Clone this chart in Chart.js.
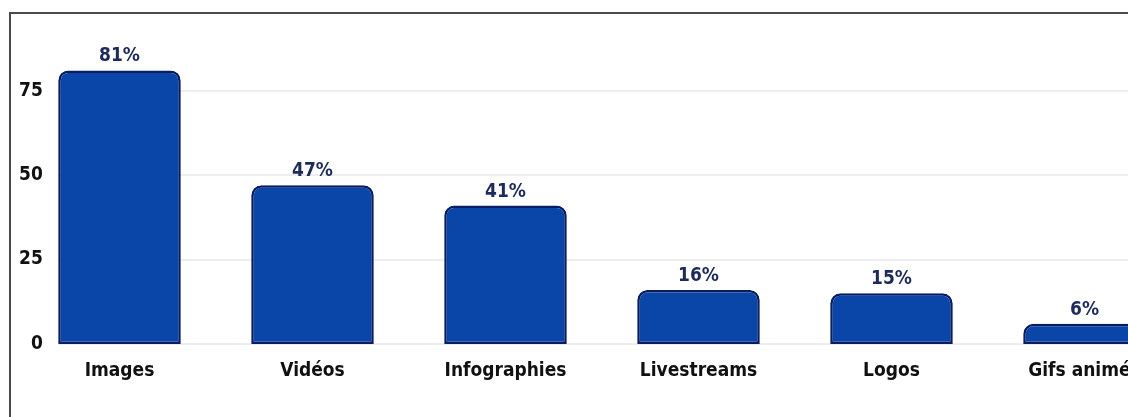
<!DOCTYPE html>
<html lang="fr">
<head>
<meta charset="utf-8">
<title>Contenus visuels</title>
<script src="https://cdn.jsdelivr.net/npm/chart.js@4.4.1/dist/chart.umd.min.js"></script>
<style>
  html, body { margin: 0; padding: 0; background: #fff; overflow: hidden; }
  #graphique { position: absolute; left: 0; top: 0; display: block; }
  /* cadre gris du haut et de gauche (l'image d'origine est rognée à droite) */
  #cadre {
    position: absolute; left: 9px; top: 12px; width: 1400px; height: 600px;
    border-left: 2px solid #4a4a4a; border-top: 2px solid #4a4a4a;
    pointer-events: none;
  }
</style>
</head>
<body>
<canvas id="graphique" width="1181" height="417"></canvas>
<div id="cadre"></div>
<script>
// données
const categories = ['Images', 'Vidéos', 'Infographies', 'Livestreams', 'Logos', 'Gifs animés'];
const pourcentages = [81, 47, 41, 16, 15, 6];
const yMax = 90;
const yPas = 25;

const police = "'Liberation Sans Narrow', 'DejaVu Sans Condensed', 'Arial Narrow', sans-serif";

// lignes de grille qui commencent au bord de la première barre
const grillePlugin = {
    id: 'grille',
    beforeDatasetsDraw(chart) {
        const ctx = chart.ctx;
        const yScale = chart.scales.y;
        const premiere = chart.getDatasetMeta(0).data[0];
        const x0 = premiere.x - premiere.width / 2;
        ctx.save();
        ctx.strokeStyle = '#ededed';
        ctx.lineWidth = 2;
        yScale.ticks.forEach(t => {
            const y = Math.round(yScale.getPixelForValue(t.value));
            ctx.beginPath();
            ctx.moveTo(x0, y);
            ctx.lineTo(chart.chartArea.right, y);
            ctx.stroke();
        });
        ctx.restore();
    }
};

// étiquettes de valeur au-dessus des barres
const valeursPlugin = {
    id: 'valeurs',
    afterDatasetsDraw(chart) {
        const ctx = chart.ctx;
        const meta = chart.getDatasetMeta(0);
        ctx.save();
        ctx.font = `bold 19px ${police}`;
        ctx.fillStyle = '#1c2a5c';
        ctx.textAlign = 'center';
        ctx.textBaseline = 'alphabetic';
        meta.data.forEach((barre, i) => {
            ctx.fillText(pourcentages[i] + '%', barre.x, barre.y - 9);
        });
        ctx.restore();
    }
};

const ctx = document.getElementById('graphique').getContext('2d');
new Chart(ctx, {
    type: 'bar',
    data: {
        labels: categories,
        datasets: [{
            data: pourcentages,
            backgroundColor: '#0a46a8',
            borderColor: '#0b1d62',
            borderWidth: 2.5,
            borderSkipped: false,
            borderRadius: { topLeft: 10, topRight: 10, bottomLeft: 0, bottomRight: 0 },
            categoryPercentage: 1,
            barPercentage: 0.635
        }]
    },
    options: {
        responsive: false,
        animation: false,
        layout: { padding: { top: 40, left: 0, right: 0, bottom: 0 } },
        plugins: {
            legend: { display: false },
            tooltip: { enabled: false }
        },
        scales: {
            x: {
                grid: { display: false, drawTicks: false },
                border: { display: false },
                ticks: {
                    color: '#111',
                    font: { family: police, size: 19, weight: 'bold' },
                    padding: 16,
                    maxRotation: 0,
                    autoSkip: false
                },
                afterFit(scale) { scale.height = 73; }
            },
            y: {
                min: 0,
                max: yMax,
                grid: { display: false, drawTicks: false },
                border: { display: false },
                ticks: {
                    stepSize: yPas,
                    includeBounds: false,
                    mirror: true,
                    crossAlign: 'far',
                    padding: -4,
                    color: '#111',
                    font: { family: police, size: 19, weight: 'bold' }
                },
                afterFit(scale) { scale.width = 23; }
            }
        }
    },
    plugins: [grillePlugin, valeursPlugin]
});
</script>
</body>
</html>
